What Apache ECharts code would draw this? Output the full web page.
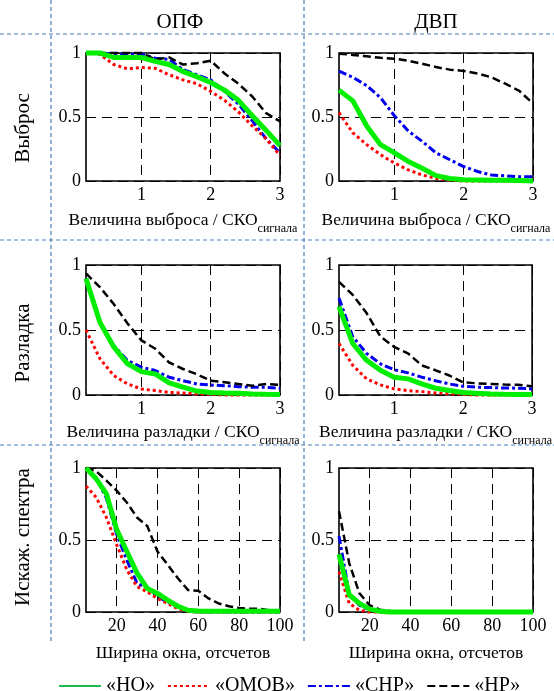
<!DOCTYPE html>
<html lang="ru">
<head>
<meta charset="UTF-8">
<title>ОПФ / ДВП</title>
<style>
    *{ margin:0; padding:0; }
    #main{ width:554px; height:691px; }
</style>
<script src="https://cdn.jsdelivr.net/npm/echarts@6/dist/echarts.min.js"></script>
</head>
<body>
<div id="main"></div>
<script>
// оси X
var xSigma = [0.2, 0.4, 0.6, 0.8, 1.0, 1.2, 1.4, 1.6, 1.8, 2.0, 2.2, 2.4, 2.6, 2.8, 3.0];
var xWindow = [5, 10, 15, 20, 25, 30, 35, 40, 45, 50, 55, 60, 65, 70, 75, 80, 85, 90, 95, 100];
var sigmaTicks = [1, 2, 3];
var windowTicks = [20, 40, 60, 80, 100];

// выброс, ОПФ
var opfOutNO   = [1, 1, 0.965, 0.965, 0.965, 0.935, 0.91, 0.855, 0.815, 0.77, 0.71, 0.63, 0.51, 0.395, 0.276];
var opfOutOMOV = [1, 0.99, 0.91, 0.876, 0.887, 0.88, 0.83, 0.79, 0.76, 0.70, 0.63, 0.54, 0.43, 0.33, 0.2];
var opfOutSNR  = [1, 1, 0.99, 0.99, 0.99, 0.96, 0.95, 0.87, 0.83, 0.79, 0.70, 0.60, 0.47, 0.33, 0.22];
var opfOutNR   = [1, 1, 1, 1, 1, 0.95, 0.965, 0.91, 0.92, 0.94, 0.84, 0.76, 0.66, 0.53, 0.466];
// выброс, ДВП
var dvpOutNO   = [0.71, 0.626, 0.43, 0.284, 0.22, 0.153, 0.1, 0.042, 0.02, 0.01, 0.008, 0.006, 0.005, 0.003, 0];
var dvpOutOMOV = [0.534, 0.376, 0.284, 0.205, 0.14, 0.087, 0.047, 0.02, 0.008, 0, 0, 0, 0, 0, 0];
var dvpOutSNR  = [0.858, 0.81, 0.745, 0.65, 0.51, 0.39, 0.31, 0.22, 0.166, 0.113, 0.074, 0.047, 0.04, 0.034, 0.034];
var dvpOutNR   = [0.995, 0.985, 0.974, 0.963, 0.955, 0.94, 0.916, 0.89, 0.87, 0.86, 0.84, 0.81, 0.76, 0.705, 0.605];
// разладка, ОПФ
var opfDisNO   = [0.897, 0.56, 0.37, 0.24, 0.18, 0.162, 0.093, 0.06, 0.03, 0.02, 0.015, 0.013, 0.008, 0.005, 0.003];
var opfDisOMOV = [0.5, 0.28, 0.15, 0.085, 0.046, 0.034, 0.02, 0.015, 0.008, 0.005, 0, 0, 0, 0, 0];
var opfDisSNR  = [0.897, 0.56, 0.38, 0.265, 0.214, 0.188, 0.137, 0.11, 0.085, 0.077, 0.072, 0.064, 0.059, 0.059, 0.052];
var opfDisNR   = [0.935, 0.83, 0.70, 0.55, 0.42, 0.356, 0.25, 0.2, 0.16, 0.11, 0.098, 0.085, 0.072, 0.085, 0.077];
// разладка, ДВП
var dvpDisNO   = [0.68, 0.396, 0.267, 0.19, 0.137, 0.124, 0.085, 0.052, 0.034, 0.02, 0.013, 0.008, 0.005, 0.003, 0.003];
var dvpDisOMOV = [0.396, 0.228, 0.124, 0.078, 0.047, 0.034, 0.026, 0.016, 0.01, 0.005, 0, 0, 0, 0, 0];
var dvpDisSNR  = [0.746, 0.448, 0.32, 0.24, 0.194, 0.17, 0.137, 0.11, 0.085, 0.067, 0.06, 0.057, 0.054, 0.052, 0.047];
var dvpDisNR   = [0.87, 0.77, 0.63, 0.45, 0.37, 0.32, 0.228, 0.19, 0.15, 0.098, 0.09, 0.085, 0.08, 0.078, 0.067];
// искажение спектра, ОПФ
var opfSpecNO   = [1, 0.925, 0.82, 0.574, 0.42, 0.27, 0.164, 0.129, 0.082, 0.04, 0.012, 0.007, 0.005, 0.005, 0.005, 0.005, 0.005, 0.005, 0.005, 0.005];
var opfSpecOMOV = [0.874, 0.796, 0.656, 0.468, 0.293, 0.176, 0.14, 0.094, 0.059, 0.023, 0.004, 0, 0, 0, 0, 0, 0, 0, 0, 0];
var opfSpecSNR  = [1, 0.93, 0.79, 0.54, 0.36, 0.2, 0.165, 0.105, 0.07, 0.035, 0.005, 0, 0, 0, 0, 0, 0, 0, 0, 0];
var opfSpecNR   = [1, 0.977, 0.913, 0.843, 0.76, 0.656, 0.597, 0.42, 0.328, 0.234, 0.152, 0.148, 0.094, 0.059, 0.04, 0.028, 0.023, 0.023, 0.012, 0.008];
// искажение спектра, ДВП
var dvpSpecNO   = [0.40, 0.12, 0.06, 0.02, 0.005, 0, 0, 0, 0, 0, 0, 0, 0, 0, 0, 0, 0, 0, 0, 0];
var dvpSpecOMOV = [0.28, 0.06, 0.012, 0, 0, 0, 0, 0, 0, 0, 0, 0, 0, 0, 0, 0, 0, 0, 0, 0];
var dvpSpecSNR  = [0.527, 0.13, 0.047, 0.012, 0, 0, 0, 0, 0, 0, 0, 0, 0, 0, 0, 0, 0, 0, 0, 0];
var dvpSpecNR   = [0.70, 0.34, 0.13, 0.047, 0.016, 0.007, 0, 0, 0, 0, 0, 0, 0, 0, 0, 0, 0, 0, 0, 0];

var names = ['«НО»', '«ОМОВ»', '«СНР»', '«НР»'];

var FONT = 'Liberation Serif';
var myChart = echarts.init(document.getElementById('main'));

// стили линий
var styles = {
    '«НО»':   { color: '#00ee00', width: 5, type: 'solid', z: 5 },
    '«ОМОВ»': { color: '#ff0000', width: 3, type: [3, 3], z: 3 },
    '«СНР»':  { color: '#0000ee', width: 3, type: [8, 3, 3, 3], z: 2 },
    '«НР»':   { color: '#000000', width: 2.5, type: [8, 4], z: 4 }
};

var grids = [
    { left: 86, top: 53, width: 194, height: 128 },
    { left: 339, top: 53, width: 194, height: 128 },
    { left: 86, top: 265, width: 194, height: 130 },
    { left: 339, top: 265, width: 194, height: 130 },
    { left: 86, top: 468, width: 194, height: 144 },
    { left: 339, top: 468, width: 194, height: 144 }
];
grids.forEach(function (g) {
    g.show = true;
    g.borderColor = '#000';
    g.borderWidth = 1.6;
    g.backgroundColor = 'transparent';
});

var rich = {
    m: { fontFamily: FONT, fontSize: 17.5, color: '#000' },
    s: { fontFamily: FONT, fontSize: 12, color: '#000', padding: [18, 0, 0, 0] }
};

function xAxis(gi, min, max, ticks, name, gap) {
    return {
        gridIndex: gi, type: 'value', min: min, max: max,
        axisLine: { show: false },
        axisTick: { show: false, customValues: ticks },
        axisLabel: { customValues: ticks, fontFamily: FONT, fontSize: 18, color: '#000', margin: 5 },
        splitLine: { show: true, lineStyle: { color: '#000', width: 1, type: [10, 6] } },
        name: name, nameLocation: 'middle', nameGap: gap,
        nameTextStyle: { fontFamily: FONT, fontSize: 17.5, color: '#000', rich: rich }
    };
}
function yAxis(gi) {
    return {
        gridIndex: gi, type: 'value', min: 0, max: 1, interval: 0.5,
        axisLine: { show: false },
        axisTick: { show: false },
        axisLabel: { fontFamily: FONT, fontSize: 18, color: '#000', margin: 5 },
        splitLine: { show: true, lineStyle: { color: '#000', width: 1, type: [10, 6] } }
    };
}

var outName = '{m|Величина выброса / СКО}{s|сигнала}';
var disName = '{m|Величина разладки / СКО}{s|сигнала}';
var winName = 'Ширина окна, отсчетов';

var xAxes = [
    xAxis(0, 0.2, 3, sigmaTicks, outName, 24),
    xAxis(1, 0.2, 3, sigmaTicks, outName, 24),
    xAxis(2, 0.2, 3, sigmaTicks, disName, 22),
    xAxis(3, 0.2, 3, sigmaTicks, disName, 22),
    xAxis(4, 5, 100, windowTicks, winName, 32),
    xAxis(5, 5, 100, windowTicks, winName, 32)
];
var yAxes = [0, 1, 2, 3, 4, 5].map(yAxis);

var series = [];
function addPanel(gi, xs, no, omov, snr, nr) {
    [no, omov, snr, nr].forEach(function (arr, k) {
        var st = styles[names[k]];
        series.push({
            name: names[k], type: 'line',
            xAxisIndex: gi, yAxisIndex: gi,
            symbol: 'none', clip: false, z: st.z,
            lineStyle: { color: st.color, width: st.width, type: st.type },
            itemStyle: { color: st.color },
            data: xs.map(function (x, i) { return [x, arr[i]]; })
        });
    });
}
addPanel(0, xSigma, opfOutNO, opfOutOMOV, opfOutSNR, opfOutNR);
addPanel(1, xSigma, dvpOutNO, dvpOutOMOV, dvpOutSNR, dvpOutNR);
addPanel(2, xSigma, opfDisNO, opfDisOMOV, opfDisSNR, opfDisNR);
addPanel(3, xSigma, dvpDisNO, dvpDisOMOV, dvpDisSNR, dvpDisNR);
addPanel(4, xWindow, opfSpecNO, opfSpecOMOV, opfSpecSNR, opfSpecNR);
addPanel(5, xWindow, dvpSpecNO, dvpSpecOMOV, dvpSpecSNR, dvpSpecNR);

// подписи строк/столбцов и разделители
var sep = { stroke: '#4a7ebb', lineWidth: 1.2, lineDash: [4, 3] };
function hText(x, y, t) {
    return { type: 'text', x: x, y: y, style: { text: t, font: '21px "' + FONT + '"', fill: '#000', textAlign: 'center', textVerticalAlign: 'middle' } };
}
function vText(x, y, t) {
    var o = hText(x, y, t);
    o.rotation = Math.PI / 2;
    return o;
}
var graphic = [
    hText(180, 22, 'ОПФ'),
    hText(436, 22, 'ДВП'),
    vText(23, 128, 'Выброс'),
    vText(23, 343, 'Разладка'),
    vText(23, 537, 'Искаж. спектра'),
    { type: 'line', shape: { x1: 0, y1: 34, x2: 554, y2: 34 }, style: sep },
    { type: 'line', shape: { x1: 0, y1: 240, x2: 554, y2: 240 }, style: sep },
    { type: 'line', shape: { x1: 0, y1: 445, x2: 554, y2: 445 }, style: sep },
    { type: 'line', shape: { x1: 51, y1: 0, x2: 51, y2: 642 }, style: sep },
    { type: 'line', shape: { x1: 304, y1: 0, x2: 304, y2: 642 }, style: sep }
];

var option = {
    animation: false,
    grid: grids,
    xAxis: xAxes,
    yAxis: yAxes,
    legend: {
        left: 53, top: 671,
        itemWidth: 42, itemHeight: 14, itemGap: 12,
        itemStyle: { opacity: 0 },
        textStyle: { fontFamily: FONT, fontSize: 20, color: '#000' },
        data: [
            { name: '«НО»', lineStyle: { color: '#1fb84c' } },
            '«ОМОВ»', '«СНР»', '«НР»'
        ]
    },
    graphic: graphic,
    series: series
};

myChart.setOption(option);
</script>
</body>
</html>
